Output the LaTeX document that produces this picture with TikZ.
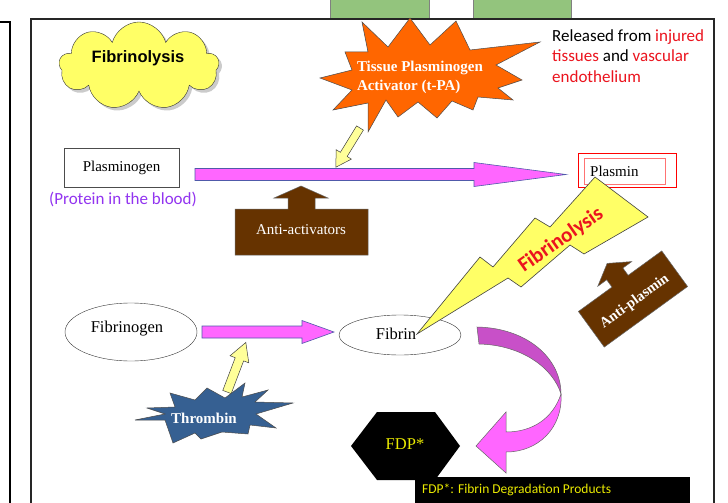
\documentclass[tikz,border=0pt]{standalone}
\usepackage{fontspec}
\setmainfont{Liberation Serif}
\newfontfamily\calibri{Carlito}
\newfontfamily\arialf{Liberation Sans}
\usetikzlibrary{shapes.symbols,shapes.geometric,shadows}
\definecolor{pinkA}{RGB}{255,102,255}
\definecolor{pinkD}{RGB}{200,80,200}
\definecolor{arrowedge}{RGB}{80,90,170}
\definecolor{brownA}{RGB}{102,51,0}
\definecolor{orangeA}{RGB}{255,102,0}
\definecolor{blueA}{RGB}{54,96,146}
\definecolor{yellowL}{RGB}{255,255,153}
\definecolor{yellowB}{RGB}{255,255,102}
\definecolor{greenA}{RGB}{147,196,125}
\definecolor{redT}{RGB}{235,20,30}
\definecolor{purpleT}{RGB}{146,52,240}
\definecolor{fdpY}{RGB}{235,235,0}
\newcommand\blockarr[8]{%
  \begin{scope}[shift={(#1,#2)},rotate=#3]
    \filldraw[#8] (0,-#5/2) -- ({#4-#7},-#5/2) -- ({#4-#7},-#6/2) -- (#4,0) -- ({#4-#7},#6/2) -- ({#4-#7},#5/2) -- (0,#5/2) -- cycle;
  \end{scope}}
\tikzset{
  pinkst/.style={fill=pinkA,draw=arrowedge,line width=0.6pt},
  yelst/.style={fill=yellowL,draw=black!75,line width=0.5pt},
  brownst/.style={fill=brownA,draw=black!60,line width=0.5pt},
  serif15/.style={font=\fontsize{15}{18}\selectfont},
  serif16/.style={font=\fontsize{16.5}{19}\selectfont},
  calib/.style={font=\calibri\fontsize{17}{20}\selectfont},
}
\begin{document}
\begin{tikzpicture}[x=1pt,y=-1pt]
\useasboundingbox (0,0) rectangle (728,503);
\fill[white] (0,0) rectangle (728,503);
% top green boxes
\filldraw[fill=greenA,draw=gray] (330,-2) rectangle (429,19);
\filldraw[fill=greenA,draw=gray] (473,-2) rectangle (571,19);
% frames
\draw[line width=1.5pt] (-2,22) -- (10,22) -- (10,506);
\draw[line width=1.8pt,black!85] (31,506) -- (31,19) -- (714,19) -- (714,506);
% cloud
\node[cloud,cloud puffs=9,cloud ignores aspect,minimum width=160pt,minimum height=88pt,
      draw=black!80,fill=yellowB,drop shadow={shadow xshift=3pt,shadow yshift=-3pt,fill=black!40}] (cloud) at (139,66) {};
\node[font=\arialf\bfseries\fontsize{16.5}{18}\selectfont] (cloudtext) at (138,58) {Fibrinolysis};
% tPA arrow and star
\blockarr{360}{128}{-121.6}{46}{8}{18}{15}{yelst}
\filldraw[fill=orangeA,draw=black!70,line width=0.5pt]
 (362,22) -- (388,47) -- (410,18) -- (430,45) -- (456,21) -- (470,50) -- (540,42) -- (496,65)
 -- (522,80) -- (498,88) -- (513,100) -- (478,97) -- (473,110) -- (452,101) -- (437,118)
 -- (418,102) -- (398,117) -- (386,100) -- (368,132) -- (368,103) -- (333,110) -- (352,90)
 -- (320,78) -- (352,70) -- (345,52) -- (368,52) -- cycle;
\node[white,align=left,font=\bfseries\fontsize{15}{19}\selectfont] (tpa) at (420,77) {Tissue Plasminogen\\Activator (t-PA)};
% released text
\node[calib,anchor=base west,inner sep=0] (rel1) at (552,42) {Released from \textcolor{redT}{injured}};
\node[calib,anchor=base west,inner sep=0,redT] (rel2) at (552,62) {tissues \textcolor{black}{and} vascular};
\node[calib,anchor=base west,inner sep=0,redT] (rel3) at (552,82) {endothelium};
% plasminogen
\node[draw=black!70,minimum width=115pt,minimum height=39pt,inner sep=0,serif15] (plg) at (121.5,167.5) {Plasminogen};
\node[calib,purpleT] (prot) at (123,199) {(Protein in the blood)};
% main pink arrow
\blockarr{195}{174.5}{0}{371}{12}{24}{92}{pinkst}
% anti-activators
\filldraw[brownst] (235,209) -- (288,209) -- (288,198) -- (274,198) -- (301,186) -- (328,198)
 -- (315,198) -- (315,209) -- (368,209) -- (368,255) -- (235,255) -- cycle;
\node[white,serif15] (antiact) at (301,230) {Anti-activators};
% plasmin
\draw[red,line width=0.8pt] (578,153) rectangle (676,187);
\draw[red!55,line width=1pt] (584,158) rectangle (665,184);
\node[anchor=west,serif15,inner sep=0] (plasmin) at (590,171) {Plasmin};
% fibrinogen
\node[ellipse,draw=black!80,minimum width=132pt,minimum height=58pt] (fbg) at (131,332) {};
\node[serif16] (fbgtext) at (127,329) {Fibrinogen};
\blockarr{202}{332}{0}{132}{12}{23}{32}{pinkst}
% fibrin
\node[ellipse,draw=black!80,minimum width=122pt,minimum height=40pt] (fb) at (400,335) {};
% thrombin
\blockarr{227}{392}{69.2}{53}{9}{20}{18}{yelst}
\filldraw[fill=blueA,draw=black!70,line width=0.5pt]
 (135,420) -- (165,420) -- (173,443) -- (195,433) -- (201,439) -- (222,432) -- (248,434)
 -- (250,425) -- (276,428) -- (256,414) -- (293,403) -- (255,402) -- (268,390) -- (242,397)
 -- (245,383) -- (225,398) -- (207,388) -- (195,400) -- (170,393) -- (175,407) -- (147,408)
 -- (165,414) -- cycle;
\node[white,font=\bfseries\fontsize{15}{18}\selectfont] (thr) at (204,418) {Thrombin};
% lightning bolt
\filldraw[fill=yellowB,draw=black!75,line width=0.6pt]
 (417,334) -- (480,257) -- (493,267) -- (535,218) -- (550,227) -- (595,177) -- (648,217)
 -- (584,254) -- (570,245) -- (521,287) -- (508,278) -- cycle;
\node[rotate=35,redT,font=\calibri\bfseries\fontsize{21}{24}\selectfont] (boltlbl) at (561,240) {Fibrinolysis};
\node[serif16] (fbtext) at (396,334) {Fibrin};
% anti-plasmin
\begin{scope}[shift={(633,299)},rotate=36]
\filldraw[brownst] (-51.5,-22) -- (-10,-22) -- (-10,-31) -- (-21,-31) -- (0,-44) -- (21,-31)
 -- (10,-31) -- (10,-22) -- (51.5,-22) -- (51.5,22) -- (-51.5,22) -- cycle;
\node[rotate=36,white,font=\bfseries\fontsize{14.5}{16}\selectfont] (antipl) at (0,3) {Anti-plasmin};
\end{scope}
% curved arrow
\filldraw[fill=pinkD,draw=black!60,line width=0.5pt] (477,327) .. controls (527,328) and (561,358) .. (561,394)
 .. controls (553,368) and (522,345) .. (479,344) -- cycle;
\filldraw[fill=pinkA,draw=black!60,line width=0.5pt] (561,394) .. controls (563,428) and (538,452) .. (506,452)
 -- (506,473) -- (476,446) -- (506,412) -- (506,432) .. controls (533,432) and (553,418) .. (561,394) -- cycle;
% FDP
\fill[black] (351,446) -- (377,412) -- (435,412) -- (460,446) -- (435,480) -- (377,480) -- cycle;
\node[fdpY,serif16] (fdp) at (405,444) {FDP*};
\fill[black] (415,477) rectangle (690,506);
\node[anchor=west,fdpY,font=\calibri\fontsize{13.5}{16}\selectfont,inner sep=0] (cap) at (422,490) {FDP*: Fibrin Degradation Products};
\end{tikzpicture}
\end{document}
